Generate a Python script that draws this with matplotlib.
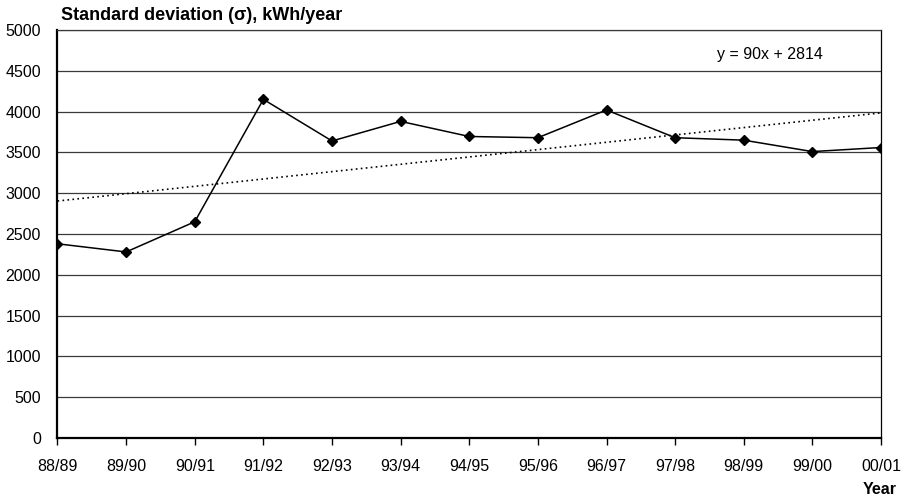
import numpy as np
import matplotlib.pyplot as plt

plt.rcParams['font.family'] = ['Liberation Sans', 'DejaVu Sans']

years = ["88/89", "89/90", "90/91", "91/92", "92/93", "93/94", "94/95",
         "95/96", "96/97", "97/98", "98/99", "99/00", "00/01"]
std_dev = [2380, 2280, 2650, 4150, 3640, 3880, 3695,
           3680, 4020, 3680, 3650, 3510, 3560]

x = np.arange(1, len(years) + 1)
slope, intercept = np.polyfit(x, std_dev, 1)

fig = plt.figure(figsize=(9.07, 4.98), dpi=100)
ax = fig.add_axes([57.5 / 907, 60 / 498, (881 - 57.5) / 907, (438 - 30) / 498])

# horizontal gridlines
ax.set_yticks(np.arange(0, 5001, 500))
ax.yaxis.grid(True, color='#3a3a3a', linewidth=0.9)
ax.set_axisbelow(True)

ax.plot(x, std_dev, color='black', linewidth=1.1, marker='D', markersize=5.5, zorder=3)
ax.plot(x, slope * x + intercept, color='black', linestyle=(0, (1, 2)), linewidth=1.2, zorder=2)

ax.set_xlim(1, len(years))
ax.set_ylim(0, 5000)
ax.set_xticks(x)
ax.set_xticklabels(years)

ax.tick_params(axis='x', direction='out', length=5, width=1, labelsize=11.5, pad=10, color='black')
ax.tick_params(axis='y', length=0, labelsize=11.5, pad=12)

ax.spines['left'].set_linewidth(1.6)
ax.spines['bottom'].set_linewidth(1.6)
ax.spines['right'].set_linewidth(0.9)
ax.spines['top'].set_linewidth(0.9)
ax.spines['top'].set_color('#3a3a3a')

ax.text(0.865, 0.94, "y = %dx + %d" % (round(slope), round(intercept)),
        transform=ax.transAxes, ha='center', va='center', fontsize=11.5)

fig.text(61 / 907, 1 - 16 / 498, "Standard deviation (\u03c3), kWh/year",
         ha='left', va='center', fontsize=13, fontweight='bold')
fig.text(897 / 907, 1 - 489 / 498, "Year", ha='right', va='center',
         fontsize=11.5, fontweight='bold')

fig.savefig("out.png", dpi=100)
